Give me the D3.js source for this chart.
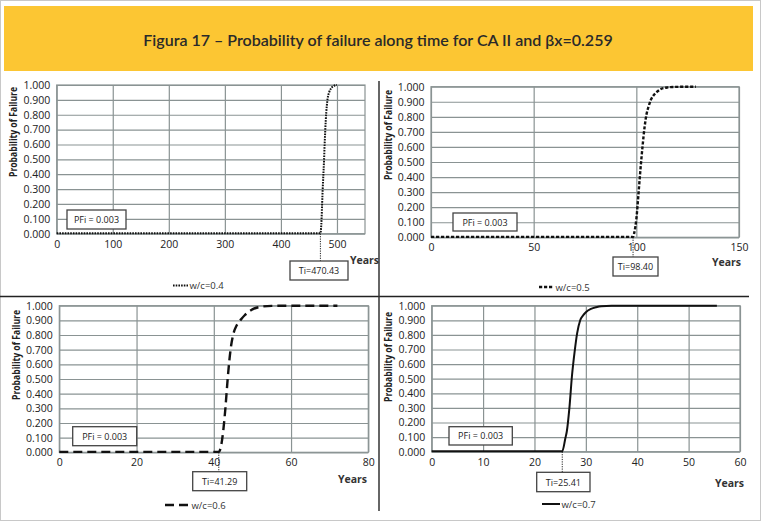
<!DOCTYPE html>
<html><head><meta charset="utf-8">
<script src="https://cdn.jsdelivr.net/npm/d3@7"></script>
<style>body{margin:0;background:#fff}svg{display:block}</style>
</head><body>
<svg id="chart" width="762" height="521"></svg>
<script>
// ---------- DATA ----------
const titleText = "Figura 17 – Probability of failure along time for CA II and βx=0.259";
const yTickValues = [0, 0.1, 0.2, 0.3, 0.4, 0.5, 0.6, 0.7, 0.8, 0.9, 1.0];
const yAxisTitle = "Probability of Failure";
const xAxisTitle = "Years";
const pfiText = "PFi = 0.003";

const seriesNames = ["w/c=0.4", "w/c=0.5", "w/c=0.6", "w/c=0.7"];
const tiValues = [470.43, 98.40, 41.29, 25.41];
const tiLabels = ["Ti=470.43", "Ti=98.40", "Ti=41.29", "Ti=25.41"];
const xDomainMax = [550, 150, 80, 60];
const xTicks04 = [0, 100, 200, 300, 400, 500];
const xTicks05 = [0, 50, 100, 150];
const xTicks06 = [0, 20, 40, 60, 80];
const xTicks07 = [0, 10, 20, 30, 40, 50, 60];

const years04 = [0, 100, 200, 300, 400, 470.43, 472, 474, 476, 477, 478, 480, 481, 483, 486, 490, 495, 500];
const pf04    = [0.003, 0.003, 0.003, 0.003, 0.003, 0.003, 0.06, 0.25, 0.42, 0.5, 0.6, 0.76, 0.82, 0.9, 0.95, 0.98, 0.995, 1.0];

const years05 = [0, 20, 40, 60, 80, 98.4, 99, 100, 101, 102, 103, 104, 105, 106, 107, 108, 110, 112, 115, 120, 125, 129];
const pf05    = [0.003, 0.003, 0.003, 0.003, 0.003, 0.003, 0.03, 0.12, 0.28, 0.45, 0.6, 0.73, 0.82, 0.87, 0.91, 0.935, 0.965, 0.985, 0.995, 0.999, 1.0, 1.0];

const years06 = [0, 10, 20, 30, 41.29, 42, 42.5, 43, 43.5, 44, 44.5, 45, 46, 47, 48, 49, 50, 52, 55, 60, 65, 72];
const pf06    = [0.003, 0.003, 0.003, 0.003, 0.003, 0.06, 0.16, 0.3, 0.47, 0.62, 0.73, 0.8, 0.87, 0.905, 0.935, 0.958, 0.975, 0.992, 0.999, 1.0, 1.0, 1.0];

const years07 = [0, 5, 10, 15, 20, 25.41, 26, 26.3, 26.8, 27.3, 27.8, 28.3, 28.9, 29.5, 30, 31, 32, 33, 35, 40, 45, 50, 55.5];
const pf07    = [0.003, 0.003, 0.003, 0.003, 0.003, 0.003, 0.09, 0.14, 0.3, 0.52, 0.68, 0.81, 0.9, 0.935, 0.955, 0.978, 0.99, 0.997, 1.0, 1.0, 1.0, 1.0, 1.0];

const seriesYears = [years04, years05, years06, years07];
const seriesPF = [pf04, pf05, pf06, pf07];
const seriesXTicks = [xTicks04, xTicks05, xTicks06, xTicks07];

// ---------- LAYOUT (positions/styles) ----------
const layout = [
  {l:56.7, r:365, t:85, b:233.7, ytX:13, ytY:132, yrsX:350, yrsY:260,
   pfi:[67,210,59,19], ti:[290,261,58,19], legX:173, legW:15, legY:285.5,
   dash:"1.6,1.1", sw:2},
  {l:431, r:739, t:86.7, b:237.3, ytX:388, ytY:135, yrsX:712, yrsY:262,
   pfi:[453,213,64,18], ti:[613,257,45,19], legX:539, legW:15, legY:287,
   dash:"3.2,1.8", sw:2.4},
  {l:59.3, r:368.3, t:305.7, b:452.3, ytX:16, ytY:355, yrsX:338, yrsY:479,
   pfi:[72.7,426.7,64,19], ti:[192.7,471.7,54,19], legX:165, legW:25, legY:505,
   dash:"9,5", sw:2.4},
  {l:431.7, r:740, t:305.7, b:451.7, ytX:388, ytY:357, yrsX:715, yrsY:483,
   pfi:[449,426.7,63.3,18.3], ti:[536.7,472.3,53.3,19.4], legX:542, legW:18, legY:504,
   dash:null, sw:2}
];

const svg = d3.select("#chart");
const FONT = "'Open Sans', 'Liberation Sans', sans-serif";
const gridColor = "#8a9393";

// outer frame
svg.append("rect").attr("x", 0.5).attr("y", 0.5).attr("width", 760).attr("height", 520)
  .attr("fill", "none").attr("stroke", "#c8c8c8").attr("stroke-width", 1);

// title banner
svg.append("rect").attr("x", 4).attr("y", 6).attr("width", 749).attr("height", 65)
  .attr("fill", "#fcc633");
const title = svg.append("text").attr("x", 378).attr("y", 39)
  .attr("text-anchor", "middle").attr("dominant-baseline", "central")
  .attr("font-family", "Lato, 'Open Sans', sans-serif").attr("font-size", 15)
  .attr("font-weight", 600)
  .attr("fill", "#2a2a2a").text(titleText);
{
  const w = title.node().getComputedTextLength();
  title.attr("font-size", 15 * 470 / w);
}

// dividers
svg.append("line").attr("x1", 0).attr("x2", 749).attr("y1", 296.5).attr("y2", 296.5)
  .attr("stroke", "#222").attr("stroke-width", 1.5);
svg.append("line").attr("x1", 379).attr("x2", 379).attr("y1", 81).attr("y2", 511)
  .attr("stroke", "#333").attr("stroke-width", 1.5);

layout.forEach((L, i) => {
  const g = svg.append("g");
  const x = d3.scaleLinear().domain([0, xDomainMax[i]]).range([L.l, L.r]);
  const y = d3.scaleLinear().domain([0, 1]).range([L.b, L.t]);

  // horizontal gridlines
  g.append("g").attr("transform", `translate(${L.l},0)`)
    .call(d3.axisLeft(y).tickValues(yTickValues).tickSize(-(L.r - L.l)).tickFormat(""))
    .call(a => a.select(".domain").remove())
    .call(a => a.selectAll("line").attr("stroke", gridColor).attr("stroke-width", 1.2));
  // vertical gridlines
  g.append("g").attr("transform", `translate(0,${L.b})`)
    .call(d3.axisBottom(x).tickValues(seriesXTicks[i]).tickSize(-(L.b - L.t)).tickFormat(""))
    .call(a => a.select(".domain").remove())
    .call(a => a.selectAll("line").attr("stroke", gridColor).attr("stroke-width", 1.2));
  // plot border
  g.append("rect").attr("x", L.l).attr("y", L.t).attr("width", L.r - L.l).attr("height", L.b - L.t)
    .attr("fill", "none").attr("stroke", gridColor).attr("stroke-width", 1.2);

  // y tick labels
  g.append("g").attr("transform", `translate(${L.l},0)`)
    .call(d3.axisLeft(y).tickValues(yTickValues).tickSize(0).tickPadding(6.5).tickFormat(d3.format(".3f")))
    .call(a => a.select(".domain").remove())
    .call(a => a.selectAll("text").attr("font-family", FONT).attr("font-size", 10.5).attr("fill", "#222"));
  // x tick labels
  g.append("g").attr("transform", `translate(0,${L.b})`)
    .call(d3.axisBottom(x).tickValues(seriesXTicks[i]).tickSize(0).tickPadding(6.5).tickFormat(d3.format("d")))
    .call(a => a.select(".domain").remove())
    .call(a => a.selectAll("text").attr("font-family", FONT).attr("font-size", 10.5).attr("fill", "#222"));

  // axis titles
  g.append("text").attr("transform", `translate(${L.ytX},${L.ytY}) rotate(-90)`)
    .attr("text-anchor", "middle").attr("dominant-baseline", "central")
    .attr("font-family", FONT).attr("font-weight", "bold").attr("font-size", 10)
    .attr("textLength", 90).attr("lengthAdjust", "spacingAndGlyphs")
    .attr("fill", "#222").text(yAxisTitle);
  g.append("text").attr("x", L.yrsX).attr("y", L.yrsY).attr("dominant-baseline", "central")
    .attr("font-family", FONT).attr("font-weight", "bold").attr("font-size", 10.5)
    .attr("fill", "#333").text(xAxisTitle);

  // Ti vertical dotted line
  g.append("line").attr("x1", x(tiValues[i])).attr("x2", x(tiValues[i]))
    .attr("y1", y(0)).attr("y2", L.ti[1])
    .attr("stroke", "#222").attr("stroke-width", 1).attr("stroke-dasharray", "1.2,1.2");

  // series line
  const pts = seriesYears[i].map((yr, k) => [yr, seriesPF[i][k]]);
  const path = g.append("path").datum(pts)
    .attr("d", d3.line().x(d => x(d[0])).y(d => y(d[1])).curve(d3.curveMonotoneX))
    .attr("fill", "none").attr("stroke", "#111").attr("stroke-width", L.sw);
  if (L.dash) path.attr("stroke-dasharray", L.dash);

  // boxes
  const box = (b, txt) => {
    g.append("rect").attr("x", b[0]).attr("y", b[1]).attr("width", b[2]).attr("height", b[3])
      .attr("fill", "#fff").attr("stroke", "#444").attr("stroke-width", 1.3);
    g.append("text").attr("x", b[0] + b[2] / 2).attr("y", b[1] + b[3] / 2)
      .attr("text-anchor", "middle").attr("dominant-baseline", "central")
      .attr("font-family", FONT).attr("font-size", 9).attr("fill", "#222").text(txt);
  };
  box(L.pfi, pfiText);
  box(L.ti, tiLabels[i]);

  // legend
  const lg = g.append("line").attr("x1", L.legX).attr("x2", L.legX + L.legW)
    .attr("y1", L.legY).attr("y2", L.legY)
    .attr("stroke", "#111").attr("stroke-width", L.sw);
  if (L.dash) lg.attr("stroke-dasharray", L.dash);
  g.append("text").attr("x", L.legX + L.legW + 1.5).attr("y", L.legY)
    .attr("dominant-baseline", "central")
    .attr("font-family", FONT).attr("font-size", 9.5).attr("fill", "#333").text(seriesNames[i]);
});
</script>
</body></html>
